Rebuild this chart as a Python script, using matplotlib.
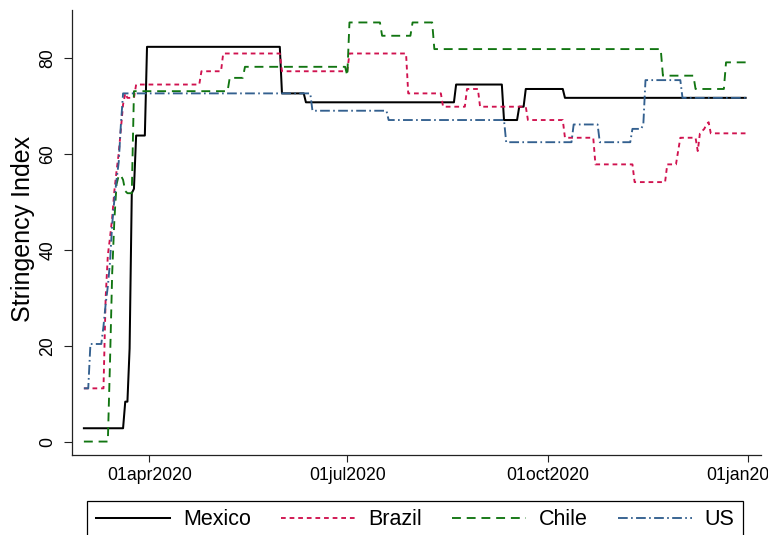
import matplotlib
matplotlib.use("Agg")
import matplotlib.pyplot as plt
import matplotlib.dates as mdates
import pandas as pd

plt.rcParams['font.family'] = ['Liberation Sans', 'DejaVu Sans']
plt.rcParams['lines.scale_dashes'] = False

# Daily stringency index, stored as the dates where the value changes
days = pd.date_range('2020-03-02', '2020-12-31', freq='D')

mexico_dates = ['2020-03-02', '2020-03-21', '2020-03-23', '2020-03-24', '2020-03-25',
                '2020-03-26', '2020-03-31', '2020-06-01', '2020-06-12', '2020-08-20',
                '2020-09-11', '2020-09-18', '2020-09-21', '2020-10-09']
mexico_values = [2.78, 8.33, 19.44, 51.85, 52.78,
                 63.89, 82.41, 72.69, 70.83, 74.54,
                 67.13, 69.91, 73.61, 71.76]

brazil_dates = ['2020-03-02', '2020-03-12', '2020-03-13', '2020-03-14', '2020-03-15',
                '2020-03-16', '2020-03-17', '2020-03-18', '2020-03-19', '2020-03-20',
                '2020-03-21', '2020-03-22', '2020-03-26', '2020-04-25', '2020-05-05',
                '2020-06-01', '2020-07-02', '2020-07-29', '2020-08-14', '2020-08-25',
                '2020-08-31', '2020-09-22', '2020-10-09', '2020-10-23', '2020-11-10',
                '2020-11-25', '2020-11-30', '2020-12-01', '2020-12-09', '2020-12-10',
                '2020-12-11', '2020-12-12', '2020-12-13', '2020-12-14', '2020-12-15']
brazil_values = [11.11, 30.09, 38.89, 42.59, 46.76,
                 52.31, 56.48, 60.19, 65.28, 70.37,
                 72.69, 71.76, 74.54, 77.31, 81.02,
                 77.31, 81.02, 72.69, 69.91, 73.61,
                 69.91, 67.13, 63.43, 57.87, 54.17,
                 57.87, 60.65, 63.43, 60.65, 64.35,
                 64.81, 65.28, 66.20, 66.67, 64.35]

chile_dates = ['2020-03-02', '2020-03-14', '2020-03-15', '2020-03-16', '2020-03-17',
               '2020-03-18', '2020-03-20', '2020-03-21', '2020-03-22', '2020-03-25',
               '2020-05-08', '2020-05-15', '2020-07-01', '2020-07-02', '2020-07-17',
               '2020-07-31', '2020-08-10', '2020-11-23', '2020-12-08', '2020-12-22']
chile_values = [0.00, 16.67, 35.19, 46.30, 53.70,
                55.56, 54.63, 52.31, 51.85, 73.15,
                75.93, 78.24, 76.39, 87.50, 84.72,
                87.50, 81.94, 76.39, 73.61, 79.17]

us_dates = ['2020-03-02', '2020-03-05', '2020-03-11', '2020-03-12', '2020-03-13',
            '2020-03-14', '2020-03-15', '2020-03-16', '2020-03-17', '2020-03-18',
            '2020-03-19', '2020-03-20', '2020-06-15', '2020-07-20', '2020-09-12',
            '2020-10-13', '2020-10-25', '2020-11-09', '2020-11-14', '2020-11-15',
            '2020-12-02']
us_values = [11.11, 20.37, 24.07, 28.70, 32.41,
             37.50, 45.37, 50.46, 54.63, 58.33,
             66.20, 72.69, 69.07, 67.13, 62.50,
             66.20, 62.50, 65.28, 66.20, 75.46,
             71.76]

countries = ['Mexico', 'Brazil', 'Chile', 'US']
tick_dates = ['2020-04-01', '2020-07-01', '2020-10-01', '2021-01-01']
tick_labels = ['01apr2020', '01jul2020', '01oct2020', '01jan2021']
y_ticks = [0, 20, 40, 60, 80]


def daily(dates, values):
    s = pd.Series(values, index=pd.to_datetime(dates))
    return s.reindex(days).ffill()


series = {
    'Mexico': daily(mexico_dates, mexico_values),
    'Brazil': daily(brazil_dates, brazil_values),
    'Chile': daily(chile_dates, chile_values),
    'US': daily(us_dates, us_values),
}

styles = {
    'Mexico': dict(color='black', lw=1.45, linestyle='-'),
    'Brazil': dict(color='#d0124f', lw=1.35, linestyle=(0, (3.4, 2.8))),
    'Chile': dict(color='#117511', lw=1.35, linestyle=(0, (6.4, 4.2))),
    'US': dict(color='#33608f', lw=1.35, linestyle=(0, (7.0, 2.4, 1.2, 2.4))),
}

fig = plt.figure(figsize=(7.68, 5.35), dpi=100)
ax = fig.add_axes([71.7 / 768, 1 - 454.5 / 535, (761.3 - 71.7) / 768, (454.5 - 10) / 535])

handles = []
for name in countries:
    s = series[name]
    h, = ax.plot(s.index, s.values, label=name, **styles[name])
    handles.append(h)

apr1 = mdates.date2num(pd.Timestamp('2020-04-01'))
ax.set_xlim(apr1 - 35.6, apr1 + 281.2)
ax.set_ylim(-2.7, 90.1)

ax.set_xticks(mdates.date2num(pd.to_datetime(tick_dates)))
ax.set_xticklabels(tick_labels, fontsize=12.7)
ax.set_yticks(y_ticks)
ax.set_yticklabels([str(v) for v in y_ticks], fontsize=12.7, rotation=90, va='center')

for side in ('top', 'right'):
    ax.spines[side].set_visible(False)
for side in ('left', 'bottom'):
    ax.spines[side].set_linewidth(0.9)
    ax.spines[side].set_color('#222222')
ax.tick_params(axis='y', length=6, width=0.8, pad=5, colors='#222222', labelcolor='black')
ax.tick_params(axis='x', length=5.2, width=0.8, pad=3.8, colors='#222222', labelcolor='black')

ax.set_ylabel('Stringency Index', fontsize=18)
ax.yaxis.set_label_coords(-0.053, 0.508)

leg = fig.legend(handles, countries, loc='upper left',
                 bbox_to_anchor=(87.3 / 768, 1 - 500.5 / 535), ncol=4,
                 frameon=True, fancybox=False, edgecolor='black', framealpha=1,
                 fontsize=15.5, handlelength=3.44, handletextpad=0.6,
                 columnspacing=1.4, borderpad=0.4, borderaxespad=0)
leg.get_frame().set_linewidth(0.9)

fig.savefig('out.png', dpi=100)
